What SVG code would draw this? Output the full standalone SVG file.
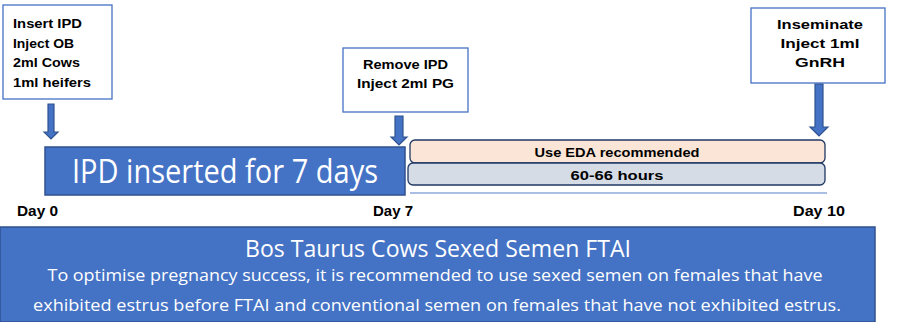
<svg xmlns="http://www.w3.org/2000/svg" width="901" height="322" viewBox="0 0 901 322">
<defs>
<style>
.note{fill:#ffffff;stroke:#4472C4;stroke-width:1.3}
.nt{font-family:"Liberation Sans",Arial,sans-serif;font-weight:bold;font-size:13.5px;fill:#000}
.arr{fill:#4472C4;stroke:#2F528F;stroke-width:1.2}
.day{font-family:"Liberation Sans",Arial,sans-serif;font-weight:bold;font-size:14px;fill:#000}
.wt{font-family:"Open Sans","Liberation Sans",sans-serif;fill:#fff}
</style>
</defs>
<rect width="901" height="322" fill="#ffffff"/>
<g id="bottom-panel">
<rect x="0" y="227" width="875" height="95" fill="#4472C4" stroke="#2F528F" stroke-width="1.5"/>
<text class="wt" x="438" y="257" font-size="24" text-anchor="middle" textLength="386" lengthAdjust="spacingAndGlyphs">Bos Taurus Cows Sexed Semen FTAI</text>
<text class="wt" x="435" y="281" font-size="15.5" text-anchor="middle" textLength="775" lengthAdjust="spacingAndGlyphs">To optimise pregnancy success, it is recommended to use sexed semen on females that have</text>
<text class="wt" x="437" y="311" font-size="15.5" text-anchor="middle" textLength="808" lengthAdjust="spacingAndGlyphs">exhibited estrus before FTAI and conventional semen on females that have not exhibited estrus.</text>
</g>
<g id="day0-note">
<rect class="note" x="3" y="5" width="109" height="94"/>
<text class="nt" x="13" y="28" textLength="69" lengthAdjust="spacingAndGlyphs">Insert IPD</text>
<text class="nt" x="13" y="47.5" textLength="61" lengthAdjust="spacingAndGlyphs">Inject OB</text>
<text class="nt" x="13" y="67" textLength="67" lengthAdjust="spacingAndGlyphs">2ml Cows</text>
<text class="nt" x="13" y="86.5" textLength="78" lengthAdjust="spacingAndGlyphs">1ml heifers</text>
</g>
<g id="day7-note">
<rect class="note" x="343" y="48" width="125" height="64"/>
<text class="nt" x="405.5" y="69" text-anchor="middle" textLength="85" lengthAdjust="spacingAndGlyphs">Remove IPD</text>
<text class="nt" x="405.5" y="88" text-anchor="middle" textLength="97" lengthAdjust="spacingAndGlyphs">Inject 2ml PG</text>
</g>
<g id="day10-note">
<rect class="note" x="751" y="8" width="134" height="75"/>
<text class="nt" x="820" y="29" text-anchor="middle" textLength="86" lengthAdjust="spacingAndGlyphs">Inseminate</text>
<text class="nt" x="820" y="48" text-anchor="middle" textLength="79" lengthAdjust="spacingAndGlyphs">Inject 1ml</text>
<text class="nt" x="820" y="67" text-anchor="middle" textLength="50" lengthAdjust="spacingAndGlyphs">GnRH</text>
</g>
<g id="ipd-bar">
<rect x="45" y="147" width="360" height="48" fill="#4472C4" stroke="#2F528F" stroke-width="1.5"/>
<text class="wt" x="225" y="183" font-size="32" text-anchor="middle" textLength="306" lengthAdjust="spacingAndGlyphs">IPD inserted for 7 days</text>
</g>
<g id="eda-box">
<rect x="410" y="140" width="415" height="23" rx="5" fill="#FBE5D6" stroke="#1F3864" stroke-width="1.3"/>
<text class="nt" x="617" y="157" font-size="14" text-anchor="middle" textLength="165" lengthAdjust="spacingAndGlyphs">Use EDA recommended</text>
</g>
<g id="hours-box">
<rect x="408" y="163" width="417" height="22" rx="5" fill="#D6DCE5" stroke="#1F3864" stroke-width="1.3"/>
<text class="nt" x="617" y="180" font-size="17" text-anchor="middle" textLength="93" lengthAdjust="spacingAndGlyphs">60-66 hours</text>
</g>
<g id="day-labels">
<text class="day" x="17" y="216" textLength="41" lengthAdjust="spacingAndGlyphs">Day 0</text>
<text class="day" x="373" y="216" textLength="40" lengthAdjust="spacingAndGlyphs">Day 7</text>
<text class="day" x="793" y="216" textLength="52" lengthAdjust="spacingAndGlyphs">Day 10</text>
</g>
<g id="connectors">
<line x1="410" y1="193" x2="827" y2="193" stroke="#8FAADC" stroke-width="1.5"/>
<path class="arr" d="M48,104 H54 V132 H58 L51,139 L44,132 H48 Z"/>
<path class="arr" d="M395,116 H403 V137 H407 L399,145 L391,137 H395 Z"/>
<path class="arr" d="M815,84 H823 V127 H828 L819,136 L810,127 H815 Z"/>
</g>
</svg>
